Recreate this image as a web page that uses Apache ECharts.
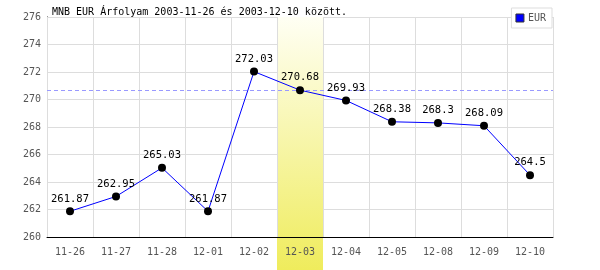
<!DOCTYPE html>
<html><head><meta charset="utf-8">
<script src="https://cdn.jsdelivr.net/npm/echarts@6/dist/echarts.min.js"></script>
<style>html,body{margin:0;padding:0;background:#fff}#c{width:600px;height:270px}</style>
</head><body><div id="c"></div>
<script>
const categories = ['11-26','11-27','11-28','12-01','12-02','12-03','12-04','12-05','12-08','12-09','12-10'];
const eurValues = [261.87,262.95,265.03,261.87,272.03,270.68,269.93,268.38,268.3,268.09,264.5];
const highlightCategory = '12-03';
const referenceValue = 270.68;
const titleText = 'MNB EUR Árfolyam 2003-11-26 és 2003-12-10 között.';
const mono = 'DejaVu Sans Mono';
const chart = echarts.init(document.getElementById('c'));
chart.setOption({
  animation: false,
  backgroundColor: '#fff',
  title: { text: titleText, left: 52, top: 7, padding: 0,
    textStyle: { fontFamily: mono, fontSize: 10, fontWeight: 'normal', color: '#000' } },
  legend: { right: 48, top: 8, padding: [5, 6, 5, 4], itemWidth: 8, itemHeight: 8, itemGap: 4,
    borderColor: '#ddd', borderWidth: 1, backgroundColor: '#fff',
    textStyle: { fontFamily: mono, fontSize: 10, color: '#555', padding: [0,0,0,-1] },
    data: [{ name: 'EUR', icon: 'rect', itemStyle: { color: '#0000ff', borderColor: '#333', borderWidth: 1 } }] },
  grid: { left: 47, right: 47, top: 17, bottom: 33 },
  xAxis: { type: 'category', data: categories, boundaryGap: true, z: 5,
    axisLine: { lineStyle: { color: '#000', width: 1 } }, axisTick: { show: false },
    axisLabel: { fontFamily: mono, fontSize: 10, color: '#555', margin: 10 },
    splitLine: { show: true, lineStyle: { color: '#ddd', width: 1 } } },
  yAxis: { type: 'value', min: 260, max: 276, interval: 2, z: 0,
    axisLine: { show: true, lineStyle: { color: '#000', width: 1 } }, axisTick: { show: false },
    axisLabel: { fontFamily: mono, fontSize: 10, color: '#555', margin: 6 },
    splitLine: { lineStyle: { color: '#ddd', width: 1 } } },
  series: [
    { type: 'custom', name: 'hl', z: 1, silent: true, clip: false,
      data: [[highlightCategory, 276]],
      renderItem: function (params, api) {
        const p = api.coord([api.value(0), 276]);
        const bw = api.size([1, 0])[0];
        const cs = params.coordSys;
        return { type: 'rect', shape: { x: p[0] - bw / 2, y: cs.y, width: bw, height: cs.height + 33 },
          style: { fill: new echarts.graphic.LinearGradient(0, 0, 0, 1, [
            { offset: 0, color: '#fffff4' }, { offset: 1, color: '#efec5c' }]) } };
      } },
    { type: 'line', name: 'EUR', z: 6, data: eurValues,
      lineStyle: { color: '#0000ff', width: 1 },
      itemStyle: { color: '#000' }, symbol: 'circle', symbolSize: 8,
      label: { show: true, position: 'top', distance: 3, fontFamily: mono, fontSize: 10.5, color: '#000' },
      markLine: { silent: true, symbol: 'none', label: { show: false },
        lineStyle: { color: '#9999ff', type: [4, 3], width: 1 },
        data: [{ yAxis: referenceValue }] } }
  ]
});
</script></body></html>
